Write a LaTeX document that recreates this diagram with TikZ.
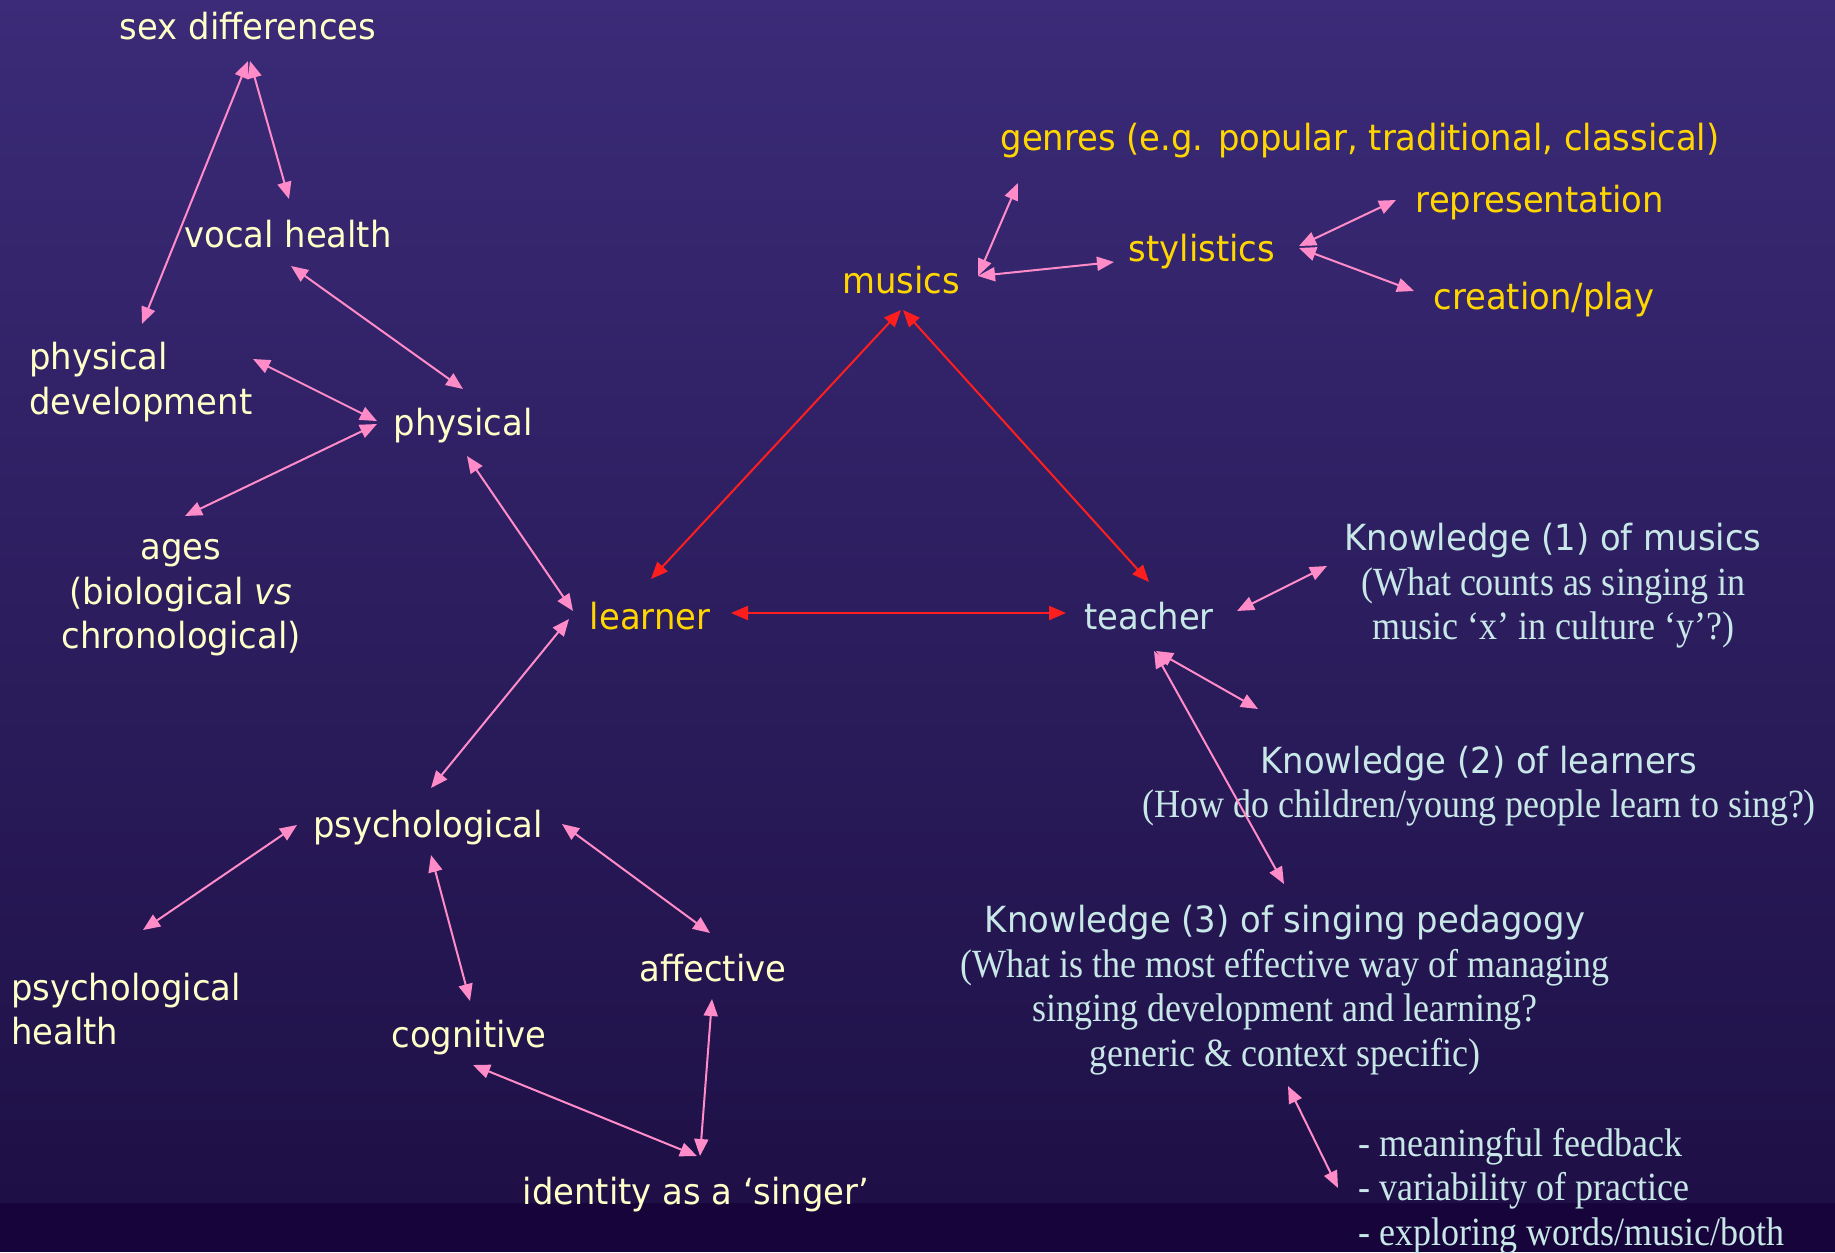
\documentclass[tikz,border=0pt]{standalone}
\usepackage{fontspec}
\setmainfont{DejaVu Sans}[FakeStretch=0.94]
\newfontfamily\qfont{Liberation Serif}[FakeStretch=0.9]
\usetikzlibrary{arrows.meta}

\definecolor{bgtop}{RGB}{59,43,120}
\definecolor{bgbot}{RGB}{30,16,70}
\definecolor{bgstrip}{RGB}{22,4,58}
\definecolor{cream}{RGB}{255,255,200}
\definecolor{gold}{RGB}{255,214,0}
\definecolor{pale}{RGB}{200,232,232}
\definecolor{pinkline}{RGB}{255,140,200}
\definecolor{redline}{RGB}{255,30,30}

\tikzset{
  lbl/.style={inner sep=0pt, align=center, font=\fontsize{36}{44.5}\selectfont},
  body/.style={lbl, text=cream},
  core/.style={lbl, text=gold},
  know/.style={lbl, text=pale},
  pk/.style={draw=pinkline, line width=2pt, {Triangle[length=17pt,width=14pt]}-{Triangle[length=17pt,width=14pt]}, fill=pinkline},
  rd/.style={draw=redline, line width=2pt, {Triangle[length=17pt,width=14pt]}-{Triangle[length=17pt,width=14pt]}, fill=redline},
}
\newcommand\qt[1]{{\fontsize{40}{44.5}\selectfont\qfont #1}}

\begin{document}
\begin{tikzpicture}[x=1pt,y=-1pt]
  % backdrop
  \shade[top color=bgtop, bottom color=bgbot] (0,0) rectangle (1835,1203);
  \fill[bgstrip] (0,1203) rectangle (1835,1252);
  \useasboundingbox (0,0) rectangle (1835,1252);

  % the three poles
  \node[core] (learner) at (650,616) {learner};
  \node[core] (musics)  at (901,280) {musics};
  \node[know] (teacher) at (1149,616) {teacher};

  % physical branch
  \node[body] (sexdiff) at (248,26) {sex differences};
  \node[body] (vocal)   at (288,234) {vocal health};
  \node[body, anchor=west, align=left] (physdev) at (29,382) {physical\\development};
  \node[body] (physical) at (463,426) {physical};
  \node[body] (ages) at (181,598) {ages\\(biological \textit{vs}\\chronological)};

  % psychological branch
  \node[body] (psych) at (428,828) {psychological};
  \node[body, anchor=west, align=left] (psyhealth) at (11,1009) {psychological\\health};
  \node[body] (cognitive) at (469,1038) {cognitive};
  \node[body] (affective) at (713,968) {affective};
  \node[body] (identity) at (696,1195) {identity as a ‘singer’};

  % musics branch
  \node[core] (genres) at (1360,141) {genres (e.g. popular, traditional, classical)};
  \node[core] (stylistics) at (1202,252) {stylistics};
  \node[core] (represent) at (1540,203) {representation};
  \node[core] (creation) at (1544,300) {creation/play};

  % teacher knowledge
  \node[know] (know1) at (1553,586) {Knowledge (1) of musics\\\qt{(What counts as singing in}\\\qt{music ‘x’ in culture ‘y’?)}};
  \node[know] (know2) at (1479,786) {Knowledge (2) of learners\\\qt{(How do children/young people learn to sing?)}};
  \node[know] (know3) at (1285,990) {Knowledge (3) of singing pedagogy\\\qt{(What is the most effective way of managing}\\\qt{singing development and learning?}\\\qt{generic \& context specific)}};
  \node[know, anchor=west, align=left] (practice) at (1358,1191) {\qt{- meaningful feedback}\\\qt{- variability of practice}\\\qt{- exploring words/music/both}};

  % connector end points
  \coordinate (sexdiff-l) at (248,61);
  \coordinate (sexdiff-r) at (250,61);
  \coordinate (physdev-t) at (142,324);
  \coordinate (vocal-t) at (289,199);
  \coordinate (vocal-b) at (291,266);
  \coordinate (physical-t) at (463,389);
  \coordinate (physdev-r) at (253,359);
  \coordinate (physical-l) at (377,421);
  \coordinate (physical-l2) at (377,424);
  \coordinate (ages-t) at (185,516);
  \coordinate (physical-b) at (467,456);
  \coordinate (learner-l) at (573,611);
  \coordinate (learner-l2) at (569,619);
  \coordinate (psych-t) at (431,788);
  \coordinate (psych-l) at (297,825);
  \coordinate (psyhealth-t) at (143,930);
  \coordinate (psych-b) at (431,855);
  \coordinate (cognitive-t) at (470,1001);
  \coordinate (psych-r) at (562,824);
  \coordinate (affective-t) at (710,933);
  \coordinate (affective-b) at (712,999);
  \coordinate (identity-t) at (700,1156);
  \coordinate (cognitive-b) at (473,1065);
  \coordinate (identity-t2) at (697,1156);
  \coordinate (learner-tr) at (651,579);
  \coordinate (musics-b) at (901,310);
  \coordinate (musics-b2) at (903,310);
  \coordinate (teacher-t) at (1149,582);
  \coordinate (learner-r) at (731,613);
  \coordinate (teacher-l) at (1066,613);
  \coordinate (musics-r) at (978,276);
  \coordinate (genres-b) at (1018,183);
  \coordinate (stylistics-l) at (1114,262);
  \coordinate (stylistics-r) at (1299,246);
  \coordinate (stylistics-r2) at (1299,248);
  \coordinate (represent-l) at (1396,200);
  \coordinate (creation-l) at (1414,291);
  \coordinate (teacher-r) at (1237,611);
  \coordinate (know1-l) at (1327,566);
  \coordinate (teacher-b) at (1156,651);
  \coordinate (teacher-b2) at (1154,651);
  \coordinate (know2-l) at (1258,709);
  \coordinate (know3-t) at (1284,884);
  \coordinate (know3-b) at (1288,1086);
  \coordinate (practice-l) at (1338,1188);

  % pink links
  \draw[pk] (sexdiff-l) -- (physdev-t);
  \draw[pk] (sexdiff-r) -- (vocal-t);
  \draw[pk] (vocal-b) -- (physical-t);
  \draw[pk] (physdev-r) -- (physical-l);
  \draw[pk] (physical-l2) -- (ages-t);
  \draw[pk] (physical-b) -- (learner-l);
  \draw[pk] (learner-l2) -- (psych-t);
  \draw[pk] (psych-l) -- (psyhealth-t);
  \draw[pk] (psych-b) -- (cognitive-t);
  \draw[pk] (psych-r) -- (affective-t);
  \draw[pk] (affective-b) -- (identity-t);
  \draw[pk] (cognitive-b) -- (identity-t2);
  \draw[pk] (musics-r) -- (genres-b);
  \draw[pk] (musics-r) -- (stylistics-l);
  \draw[pk] (stylistics-r) -- (represent-l);
  \draw[pk] (stylistics-r2) -- (creation-l);
  \draw[pk] (teacher-r) -- (know1-l);
  \draw[pk] (teacher-b) -- (know2-l);
  \draw[pk] (teacher-b2) -- (know3-t);
  \draw[pk] (know3-b) -- (practice-l);

  % red triangle
  \draw[rd] (learner-tr) -- (musics-b);
  \draw[rd] (musics-b2) -- (teacher-t);
  \draw[rd] (learner-r) -- (teacher-l);
\end{tikzpicture}
\end{document}
